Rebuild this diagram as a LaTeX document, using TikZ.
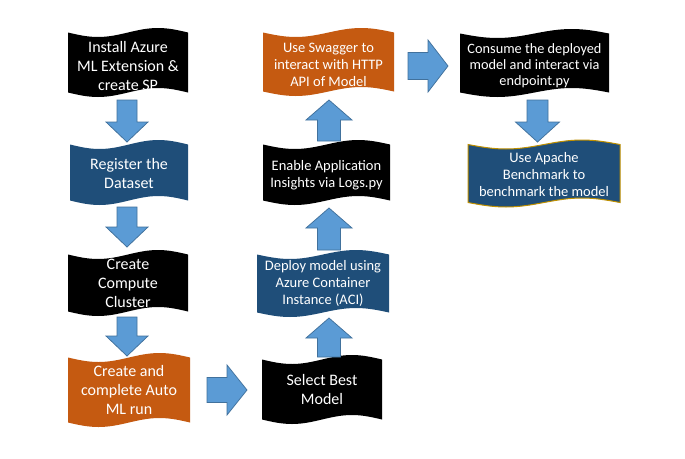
\documentclass[tikz,border=0pt]{standalone}
\usepackage{fontspec}
\setmainfont{Carlito}
\definecolor{tblack}{HTML}{000000}
\definecolor{tblue}{HTML}{1F4E79}
\definecolor{torange}{HTML}{C55A11}
\definecolor{afill}{HTML}{5B9BD5}
\definecolor{aline}{HTML}{41719C}
\definecolor{tgold}{HTML}{BF9000}
\tikzset{
  blockarrow/.style={fill=afill, draw=aline, line width=0.75pt, line join=miter},
  boxtxt/.style={text=white, align=center, inner sep=0pt},
  bigtxt/.style={font=\fontsize{16}{19}\selectfont},
  midtxt/.style={font=\fontsize{14.5}{17.2}\selectfont},
  smalltxt/.style={font=\fontsize{14.3}{15.7}\selectfont},
}
\def\wa{4.5}
% #1 name, #2 x0, #3 y0, #4 w, #5 h, #6 path style, #7 text style, #8 text
\newcommand{\tapebox}[8]{%
  \path[#6] (#2,{#3+\wa}) sin ({#2+#4/4},{#3+2*\wa}) cos ({#2+#4/2},{#3+\wa})
     sin ({#2+3*#4/4},{#3}) cos ({#2+#4},{#3+\wa})
     -- ({#2+#4},{#3+#5-\wa}) sin ({#2+3*#4/4},{#3+#5-2*\wa}) cos ({#2+#4/2},{#3+#5-\wa})
     sin ({#2+#4/4},{#3+#5}) cos ({#2},{#3+#5-\wa}) -- cycle;
  \node[boxtxt,#7] (#1) at ({#2+#4/2},{#3+#5/2}) {#8};
}
% #1 name, #2 cx, #3 cy, #4 rotation, #5 length, #6 shaft width, #7 head width, #8 head length
\newcommand{\barrow}[8]{%
  \coordinate (#1) at (#2,#3);
  \begin{scope}[shift={(#1)}, rotate=#4]
    \path[blockarrow] ({-#5/2},{-#6/2}) -- ({#5/2-#8},{-#6/2}) -- ({#5/2-#8},{-#7/2})
      -- ({#5/2},0) -- ({#5/2-#8},{#7/2}) -- ({#5/2-#8},{#6/2}) -- ({-#5/2},{#6/2}) -- cycle;
  \end{scope}
}
\begin{document}
\begin{tikzpicture}[x=1pt,y=-1pt]
\useasboundingbox[fill=white] (0,0) rectangle (685,458);
% column 1
\tapebox{b1}{68}{28}{120}{69}{fill=tblack}{bigtxt,yshift=-3.5pt}{Install Azure\\ML Extension \&\\create SP}
\tapebox{b2}{70}{140}{118}{65}{fill=tblue}{bigtxt,yshift=-1.5pt}{Register the\\Dataset}
\tapebox{b3}{68}{250}{120}{66}{fill=tblack}{bigtxt}{Create\\Compute\\Cluster}
\tapebox{b4}{68}{353}{122}{74}{fill=torange}{bigtxt}{Create and\\complete Auto\\ML run}
% column 2
\tapebox{b5}{262}{355}{120}{69}{fill=tblack}{bigtxt}{Select Best\\Model}
\tapebox{b6}{257}{250}{132}{67}{fill=tblue}{midtxt}{Deploy model using\\Azure Container\\Instance (ACI)}
\tapebox{b7}{263}{140}{127}{65}{fill=tblack}{midtxt,yshift=-3pt}{Enable Application\\Insights via Logs.py}
\tapebox{b8}{263}{28}{131}{68}{fill=torange}{midtxt,yshift=-3pt}{Use Swagger to\\interact with HTTP\\API of Model}
% column 3
\tapebox{b9}{460}{29}{149}{68}{fill=tblack}{smalltxt,yshift=-2.5pt}{Consume the deployed\\model and interact via\\endpoint.py}
\tapebox{b10}{468}{140}{152}{67}{fill=tblue, draw=tgold, line width=1pt}{midtxt,yshift=-1pt}{Use Apache\\Benchmark to\\benchmark the model}
% arrows
\barrow{a1}{127}{121}{-90}{42}{20}{42}{20}
\barrow{a2}{127}{227}{-90}{40}{20}{42}{20}
\barrow{a3}{127}{336.5}{-90}{39}{20}{42}{20}
\barrow{a4}{227}{390}{0}{40}{25}{50}{20}
\barrow{a5}{329}{337.5}{90}{39}{23}{46}{20}
\barrow{a6}{329}{229}{90}{42}{23}{46}{20}
\barrow{a7}{329}{120.5}{90}{41}{23}{46}{20}
\barrow{a8}{428}{66}{0}{40}{27}{52}{20}
\barrow{a9}{537.5}{121}{-90}{42}{21}{44}{20}
\end{tikzpicture}
\end{document}
